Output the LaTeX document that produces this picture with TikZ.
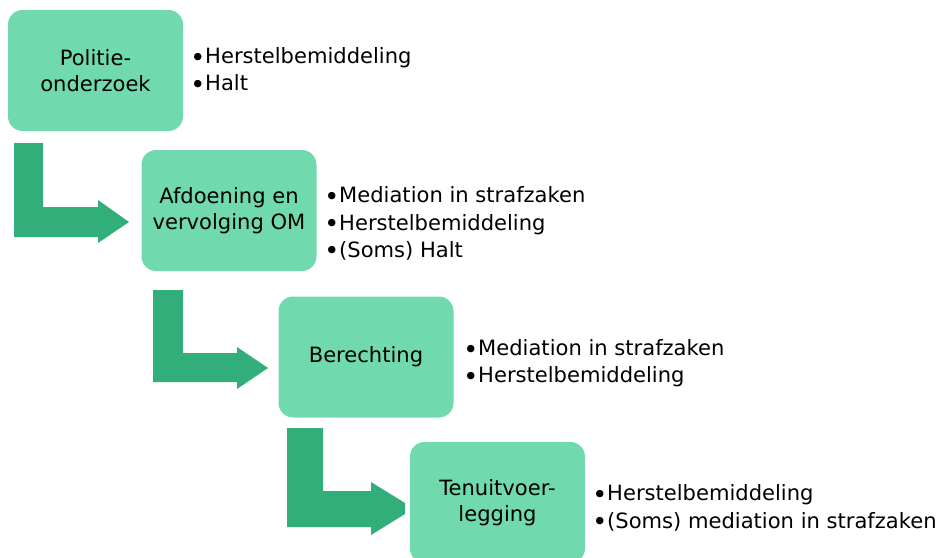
\documentclass[tikz,border=0pt]{standalone}
\usepackage{fontspec}
\setmainfont{DejaVu Sans}
\definecolor{boxgreen}{RGB}{112,217,174}
\definecolor{arrowgreen}{RGB}{49,174,122}
\newcommand{\bul}{\raisebox{-1.8pt}{\fontsize{19}{19}\selectfont •}}
\begin{document}
\begin{tikzpicture}[x=0.75pt,y=-0.75pt,
  stage/.style={fill=boxgreen, rounded corners=11pt, minimum width=131.25pt,
    minimum height=90.75pt, align=center, inner sep=0pt,
    font=\fontsize{15.8}{19.5}\selectfont},
  items/.style={anchor=west, align=left, inner sep=0pt,
    font=\fontsize{15.8}{20.5}\selectfont},
  bentarrow/.style={fill=arrowgreen, draw=none}]
\useasboundingbox (0,0) rectangle (946,557);
\clip (0,0) rectangle (946,557);

% bent arrows
\fill[bentarrow] (14,143) -- (43,143) -- (43,207) -- (98,207) -- (98,200) -- (129,222)
  -- (98,243) -- (98,237) -- (14,237) -- cycle;
\fill[bentarrow] (153,290) -- (183,290) -- (183,353) -- (237,353) -- (237,347) -- (268,368)
  -- (237,389) -- (237,382) -- (153,382) -- cycle;
\fill[bentarrow] (287,428) -- (323,428) -- (323,491) -- (371,491) -- (371,482) -- (405,503)
  -- (405,514) -- (371,535) -- (371,527) -- (287,527) -- cycle;

% stages
\node[stage] (b1) at (95.5,70.5) {Politie-\\onderzoek};
\node[stage] (b2) at (229,210.5) {Afdoening en\\vervolging OM};
\node[stage] (b3) at (366,357) {Berechting};
\node[stage] (b4) at (497.5,502.5) {Tenuitvoer-\\legging};

% lists
\node[items] (l1) at (190,70.5) {\bul Herstelbemiddeling\\\bul Halt};
\node[items] (l2) at (324,223.5) {\bul Mediation in strafzaken\\\bul Herstelbemiddeling\\\bul (Soms) Halt};
\node[items] (l3) at (463,363.5) {\bul Mediation in strafzaken\\\bul Herstelbemiddeling};
\node[items] (l4) at (592,508) {\bul Herstelbemiddeling\\\bul (Soms) mediation in strafzaken};
\end{tikzpicture}
\end{document}
